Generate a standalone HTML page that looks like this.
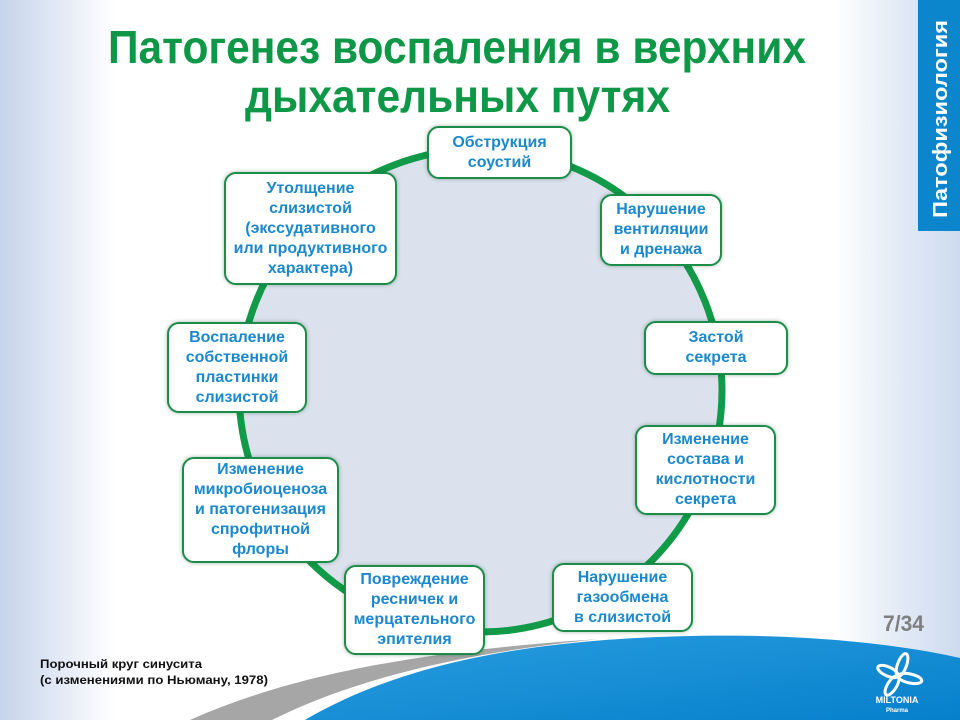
<!DOCTYPE html>
<html><head><meta charset="utf-8">
<style>
html,body{margin:0;padding:0;}
body{width:960px;height:720px;position:relative;overflow:hidden;
background:linear-gradient(to right,#c6d4ea 0px,#e3eaf6 60px,#ffffff 115px,#ffffff 835px,#e6edf7 890px,#cddaef 960px);
font-family:"Liberation Sans",Arial,sans-serif;}
svg.main{position:absolute;left:0;top:0;}
.box{position:absolute;box-sizing:border-box;background:#fff;border:2.5px solid #1c8d48;border-radius:12px;
box-shadow:0 0 4px rgba(0,60,20,0.35);display:flex;align-items:center;justify-content:center;text-align:center;
color:#1b88cc;font-weight:bold;font-size:16px;line-height:20px;}
</style></head><body>
<svg class="main" width="960" height="720" viewBox="0 0 960 720">
  <defs>
    <linearGradient id="bl" x1="0" y1="0" x2="1" y2="1">
      <stop offset="0" stop-color="#2a9de0"/>
      <stop offset="1" stop-color="#0680cb"/>
    </linearGradient>
  </defs>
  <!-- right tab -->
  <rect x="918" y="0" width="42" height="231" fill="#0b86cd"/>
  <text transform="translate(947,218) rotate(-90)" x="0" y="0" font-family="Liberation Sans, sans-serif" font-weight="bold" font-size="20" fill="#ffffff" textLength="198" lengthAdjust="spacingAndGlyphs">Патофизиология</text>
  <!-- title -->
  <text x="108" y="63" font-family="Liberation Sans, sans-serif" font-weight="bold" font-size="46" fill="#0f9748" textLength="698" lengthAdjust="spacingAndGlyphs">Патогенез воспаления в верхних</text>
  <text x="245" y="112" font-family="Liberation Sans, sans-serif" font-weight="bold" font-size="46" fill="#0f9748" textLength="425" lengthAdjust="spacingAndGlyphs">дыхательных путях</text>
  <!-- circle -->
  <circle cx="480.5" cy="390.5" r="241.5" fill="#dbe2ee" stroke="#119a48" stroke-width="7"/>
  <!-- bottom gray stripe -->
  <path d="M190 720 C 280 680, 400 652, 600 639 C 440 655, 340 686, 272 720 Z" fill="#a6a6a6"/>
  <!-- blue wave -->
  <path d="M305 720 C 380 676, 480 648, 620 639 C 760 630, 880 640, 960 658 L 960 720 Z" fill="url(#bl)"/>
  <!-- page number -->
  <text x="883" y="631" font-family="Liberation Sans, sans-serif" font-weight="bold" font-size="22" fill="#7f7f7f" textLength="41" lengthAdjust="spacingAndGlyphs">7/34</text>
  <!-- caption -->
  <text x="40" y="668" font-family="Liberation Sans, sans-serif" font-weight="bold" font-size="12" fill="#111" textLength="162" lengthAdjust="spacingAndGlyphs">Порочный круг синусита</text>
  <text x="40" y="684" font-family="Liberation Sans, sans-serif" font-weight="bold" font-size="12" fill="#111" textLength="228" lengthAdjust="spacingAndGlyphs">(с изменениями по Ньюману, 1978)</text>
  <!-- logo -->
  <g fill="none" stroke="#ffffff" stroke-width="3">
    <ellipse cx="902" cy="665" rx="4.5" ry="12" transform="rotate(20 902 665)"/>
    <ellipse cx="888" cy="671.5" rx="11" ry="4.5" transform="rotate(24 888 671.5)"/>
    <ellipse cx="910" cy="678.5" rx="12" ry="4.5" transform="rotate(12 910 678.5)"/>
    <ellipse cx="892" cy="685.5" rx="4.5" ry="11" transform="rotate(32 892 685.5)"/>
  </g>
  <text x="897" y="703" text-anchor="middle" font-family="Liberation Sans, sans-serif" font-weight="bold" font-size="9" fill="#ffffff">MILTONIA</text>
  <text x="897" y="712" text-anchor="middle" font-family="Liberation Sans, sans-serif" font-weight="bold" font-size="6" fill="#ffffff">Pharma</text>
</svg>

<div class="box" style="left:427px;top:126px;width:145px;height:53px;">Обструкция<br>соустий</div>
<div class="box" style="left:600px;top:194px;width:122px;height:72px;">Нарушение<br>вентиляции<br>и дренажа</div>
<div class="box" style="left:644px;top:321px;width:144px;height:54px;">Застой<br>секрета</div>
<div class="box" style="left:635px;top:425px;width:141px;height:90px;">Изменение<br>состава и<br>кислотности<br>секрета</div>
<div class="box" style="left:552px;top:563px;width:141px;height:69px;">Нарушение<br>газообмена<br>в слизистой</div>
<div class="box" style="left:344px;top:565px;width:141px;height:90px;">Повреждение<br>ресничек и<br>мерцательного<br>эпителия</div>
<div class="box" style="left:182px;top:457px;width:157px;height:106px;">Изменение<br>микробиоценоза<br>и патогенизация<br>спрофитной<br>флоры</div>
<div class="box" style="left:167px;top:322px;width:140px;height:91px;">Воспаление<br>собственной<br>пластинки<br>слизистой</div>
<div class="box" style="left:224px;top:172px;width:173px;height:113px;">Утолщение<br>слизистой<br>(экссудативного<br>или продуктивного<br>характера)</div>
</body></html>
